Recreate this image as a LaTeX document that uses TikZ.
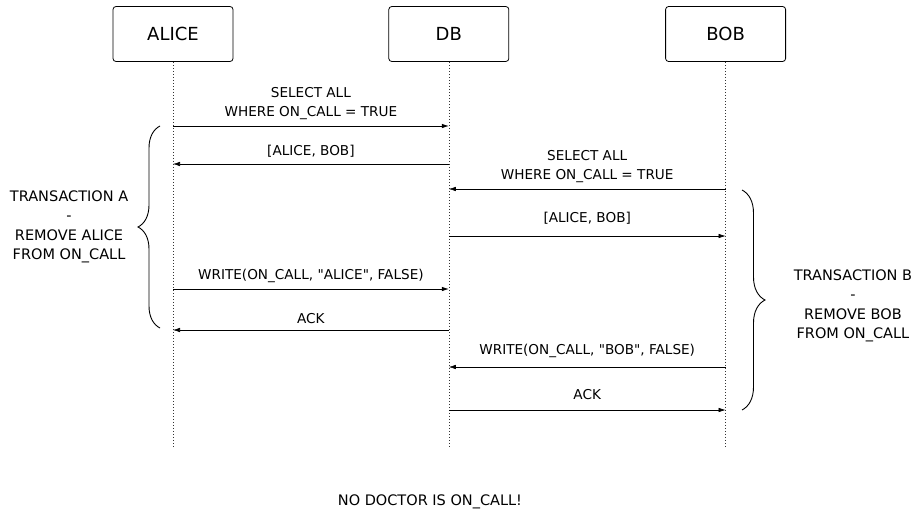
\documentclass[tikz,border=0pt]{standalone}
\usepackage{fontspec}
\setmainfont{DejaVu Sans}
\usetikzlibrary{arrows.meta, positioning, calc, decorations.pathreplacing}
\tikzset{
  actor/.style={rectangle, rounded corners=3pt, draw=black, line width=0.8pt,
                minimum width=120pt, minimum height=55pt, align=center,
                font=\fontsize{18}{20}\selectfont},
  life/.style={black!80, dash pattern=on 1pt off 2pt},
  msg/.style={-{Latex[length=7pt, width=4.5pt]}, black, line width=0.6pt},
  lbl/.style={font=\fontsize{13.6}{18.5}\selectfont, align=center, inner sep=2pt},
  brc/.style={decorate, decoration={brace, amplitude=#1}, black, line width=0.9pt},
  brc/.default=22pt,
  note/.style={font=\fontsize{14.5}{19.5}\selectfont, align=center},
}
\newcommand{\qt}{\textquotedbl}
\begin{document}
\begin{tikzpicture}[x=1pt, y=-1pt]
  \useasboundingbox (0,0) rectangle (916,514);

  % participants
  \node[actor] (alice) at (173,34) {ALICE};
  \node[actor, right=155pt of alice] (db) {DB};
  \node[actor, right=156pt of db] (bob) {BOB};

  % lifelines
  \coordinate (aend) at (alice |- 0,448);
  \coordinate (dend) at (db |- 0,448);
  \coordinate (bend) at (bob |- 0,448);
  \draw[life] (alice.south) -- (aend);
  \draw[life] (db.south) -- (dend);
  \draw[life] (bob.south) -- (bend);

  % transaction A
  \draw[msg] (alice |- 0,126) -- node[lbl, above=4pt] {SELECT ALL\\WHERE ON\_CALL = TRUE} (db |- 0,126);
  \draw[msg] (db |- 0,164) -- node[lbl, above=4pt] {[ALICE, BOB]} (alice |- 0,164);
  \draw[msg] (alice |- 0,289) -- node[lbl, above=4pt] {WRITE(ON\_CALL, \qt ALICE\qt, FALSE)} (db |- 0,289);
  \draw[msg] (db |- 0,330) -- node[lbl, above=4pt] {ACK} (alice |- 0,330);

  % transaction B
  \draw[msg] (bob |- 0,189) -- node[lbl, above=4pt] {SELECT ALL\\WHERE ON\_CALL = TRUE} (db |- 0,189);
  \draw[msg] (db |- 0,236) -- node[lbl, above=9pt] {[ALICE, BOB]} (bob |- 0,236);
  \draw[msg] (bob |- 0,367) -- node[lbl, above=7pt] {WRITE(ON\_CALL, \qt BOB\qt, FALSE)} (db |- 0,367);
  \draw[msg] (db |- 0,410) -- node[lbl, above=8pt] {ACK} (bob |- 0,410);

  % braces
  \draw[brc] (160,328) -- node[note, left=28pt] (txa) {TRANSACTION A\\-\\REMOVE ALICE\\FROM ON\_CALL} (160,126);
  \draw[brc=23pt] (742,190) -- node[note, right=48pt, yshift=-6pt] (txb) {TRANSACTION B\\-\\REMOVE BOB\\FROM ON\_CALL} (742,410);

  \node[note] (result) at (430,502) {NO DOCTOR IS ON\_CALL!};
\end{tikzpicture}
\end{document}
